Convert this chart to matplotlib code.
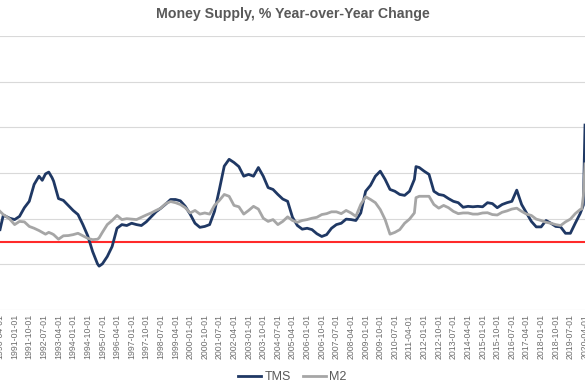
# -*- coding: utf-8 -*-

# Money supply growth (TMS vs M2), year-over-year change in percent

import matplotlib
matplotlib.use('Agg')
import matplotlib.pyplot as plt
import pandas as pd

# data (quarterly, monthly around the edges)
months = ['1990-04', '1990-06', '1990-07', '1990-10', '1991-01', '1991-04', '1991-07', '1991-10',
          '1992-01', '1992-04', '1992-06', '1992-08', '1992-10', '1992-12', '1993-01', '1993-04',
          '1993-07', '1993-10', '1994-01', '1994-04', '1994-07', '1994-10', '1995-01', '1995-04',
          '1995-05', '1995-07', '1995-10', '1996-01', '1996-04', '1996-07', '1996-10', '1997-01',
          '1997-04', '1997-07', '1997-10', '1998-01', '1998-04', '1998-07', '1998-10', '1999-01',
          '1999-04', '1999-07', '1999-10', '2000-01', '2000-04', '2000-07', '2000-10', '2001-01',
          '2001-04', '2001-07', '2001-10', '2002-01', '2002-04', '2002-07', '2002-10', '2003-01',
          '2003-04', '2003-07', '2003-10', '2004-01', '2004-04', '2004-07', '2004-10', '2005-01',
          '2005-04', '2005-07', '2005-10', '2006-01', '2006-04', '2006-07', '2006-10', '2007-01',
          '2007-04', '2007-07', '2007-10', '2008-01', '2008-04', '2008-07', '2008-10', '2009-01',
          '2009-04', '2009-07', '2009-10', '2010-01', '2010-04', '2010-07', '2010-10', '2011-01',
          '2011-04', '2011-07', '2011-08', '2011-10', '2012-01', '2012-04', '2012-07', '2012-10',
          '2013-01', '2013-04', '2013-07', '2013-10', '2014-01', '2014-04', '2014-07', '2014-10',
          '2015-01', '2015-04', '2015-07', '2015-10', '2016-01', '2016-04', '2016-07', '2016-10',
          '2017-01', '2017-04', '2017-07', '2017-10', '2018-01', '2018-04', '2018-07', '2018-10',
          '2019-01', '2019-04', '2019-07', '2019-10', '2020-01', '2020-02', '2020-03', '2020-04']

tms = [2.6, 5.7, 5.6, 5.1, 4.8, 5.5, 7.4, 8.8,
       12.5, 14.3, 13.4, 14.8, 15.2, 14.0, 13.2, 9.4,
       9.0, 7.9, 6.8, 5.9, 3.7, 1.25, -2.2, -4.9,
       -5.4, -4.9, -3.3, -1.1, 2.9, 3.7, 3.5, 4.0,
       3.7, 3.5, 4.3, 5.4, 6.5, 7.3, 8.2, 9.2,
       9.2, 8.9, 7.7, 6.0, 4.0, 3.1, 3.3, 3.7,
       6.6, 11.4, 16.5, 18.0, 17.3, 16.4, 14.3, 14.7,
       14.3, 16.2, 14.3, 11.8, 11.4, 10.3, 9.3, 8.8,
       5.3, 3.5, 2.7, 2.9, 2.6, 1.7, 1.1, 1.5,
       2.9, 3.7, 4.0, 4.9, 4.8, 4.6, 6.25, 11.0,
       12.3, 14.3, 15.4, 13.6, 11.4, 11.0, 10.3, 10.1,
       11.0, 13.6, 16.4, 16.2, 15.4, 14.7, 11.0, 10.3,
       10.1, 9.4, 8.8, 8.5, 7.5, 7.7, 7.6, 7.7,
       7.6, 8.5, 8.3, 7.4, 8.1, 8.5, 8.8, 11.25,
       8.1, 6.25, 4.4, 3.2, 3.2, 4.6, 4.0, 3.3,
       3.2, 1.8, 1.8, 4.0, 6.1, 7.0, 8.0, 25.5]

m2 = [6.6, 5.9, 5.7, 4.9, 3.7, 4.4, 4.3, 3.3,
      2.9, 2.4, 2.0, 1.6, 2.0, 1.7, 1.5, 0.5,
      1.25, 1.3, 1.5, 1.8, 1.25, 0.7, 0.4, 0.5,
      0.8, 2.0, 3.7, 4.6, 5.7, 4.8, 5.0, 4.9,
      4.8, 5.3, 5.8, 6.25, 6.8, 7.3, 8.3, 8.75,
      8.5, 8.1, 7.4, 6.25, 6.8, 6.0, 6.25, 6.0,
      7.9, 9.0, 10.3, 9.9, 7.9, 7.6, 6.0, 6.8,
      7.7, 7.1, 5.1, 4.4, 4.8, 3.7, 4.4, 5.4,
      4.6, 4.2, 4.6, 4.8, 5.1, 5.3, 5.9, 6.1,
      6.5, 6.5, 6.1, 6.8, 6.25, 5.5, 8.1, 9.8,
      9.2, 8.5, 7.0, 4.8, 1.6, 2.0, 2.6, 4.0,
      4.9, 6.25, 9.6, 9.9, 9.9, 9.9, 8.1, 7.3,
      7.9, 7.4, 6.6, 6.1, 6.25, 6.25, 6.0, 6.0,
      6.25, 6.3, 5.9, 5.8, 6.4, 6.7, 7.1, 7.3,
      6.6, 6.0, 5.7, 4.9, 4.6, 4.2, 4.0, 3.7,
      3.5, 4.3, 4.9, 6.1, 7.0, 7.1, 10.0, 17.0]

# category labels on the x axis (every 9 months)
tick_labels = list(pd.date_range('1990-04-01', '2020-04-01', freq='9MS').strftime('%Y-%m-%d'))

title = 'Money Supply, % Year-over-Year Change'


def month_index(s):
  # months since 1990-04
  y, m = s.split('-')[:2]
  return (int(y) - 1990) * 12 + int(m) - 4


if __name__ == '__main__':

  x = [month_index(s) for s in months]
  tick_pos = [month_index(s) for s in tick_labels]

  fig = plt.figure(figsize=(5.85, 3.9), dpi=100)
  plt.rcParams['font.family'] = ['Liberation Sans', 'DejaVu Sans']

  # plot area is cropped on both sides, like the original screenshot
  px = 1.625 / 585
  ax = fig.add_axes([-2 * px, 80 / 390, 364 * px, 274 / 390])

  ax.set_xlim(-2, 362)
  ax.set_ylim(-15, 45)
  ax.set_yticks([-15, -5, 5, 15, 25, 35, 45])
  ax.set_yticklabels([])
  ax.grid(axis='y', color='#D9D9D9', linewidth=0.8)
  ax.set_axisbelow(True)
  for s in ax.spines.values():
    s.set_visible(False)

  ax.axhline(0, color='#FF2A2A', linewidth=1.5, zorder=2)
  ax.plot(x, tms, color='#1F3864', linewidth=2.0, label='TMS', zorder=3)
  ax.plot(x, m2, color='#A6A6A6', linewidth=2.0, label='M2', zorder=3)

  ax.set_xticks(tick_pos)
  ax.set_xticklabels(tick_labels, rotation=90, fontsize=6.3, color='#6E6E6E')
  ax.tick_params(axis='x', length=0, pad=3)
  ax.tick_params(axis='y', length=0)

  fig.text(0.5, 1 - 14 / 390, title, ha='center', va='center',
           fontsize=10.2, fontweight='bold', color='#595959')

  fig.legend(loc='center', bbox_to_anchor=(0.5, 13 / 390), ncol=2, frameon=False,
             fontsize=9, labelcolor='#595959', handlelength=1.8, columnspacing=1.0,
             handletextpad=0.3)

  fig.savefig('out.png', dpi=100)
  plt.close()
